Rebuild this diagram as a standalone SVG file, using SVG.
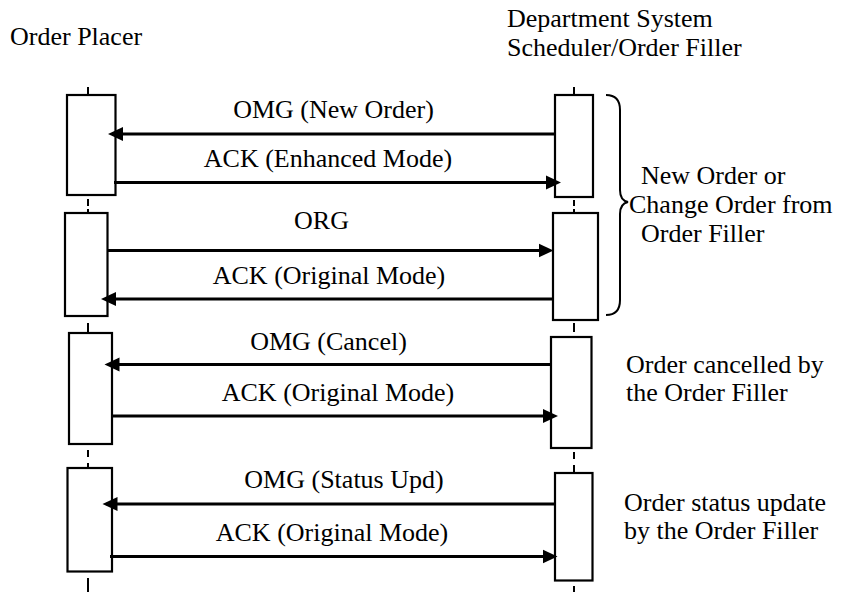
<svg xmlns="http://www.w3.org/2000/svg" width="853" height="592" viewBox="0 0 853 592">
<style>
text{font-family:"Liberation Serif","Times New Roman",Times,"Noto Serif","DejaVu Serif",FreeSerif,serif;font-size:26px;fill:#000}
.lbl{text-anchor:middle}
.life{stroke:#000;stroke-width:2;fill:none}
.box{fill:#fff;stroke:#000;stroke-width:2.2}
.msg{stroke:#000;stroke-width:3;fill:none}
.arr{marker-end:url(#ah)}
.brace{fill:none;stroke:#000;stroke-width:2}
</style>
<defs>
<marker id="ah" markerUnits="userSpaceOnUse" markerWidth="16" markerHeight="16" viewBox="0 0 16 16" refX="11" refY="8" orient="auto">
<path d="M0,1 L15,8 L0,15 Z" fill="#000"/>
</marker>
</defs>
<rect width="853" height="592" fill="#fff"/>

<g id="order-placer">
<text x="10" y="45">Order Placer</text>
<path class="life" d="M88,87V95 M88,199V206 M88,209V213 M88,323V332 M88,450V457 M88,463V468 M88,578V592"/>
</g>
<g id="order-filler">
<text x="507" y="27">Department System</text>
<text x="507" y="56">Scheduler/Order Filler</text>
<path class="life" d="M574,87V95 M574,200V206 M574,209V213 M574,323V332 M574,452V459 M574,465V473 M574,586V592"/>
</g>

<g id="placer-act-1"><rect class="box" x="67" y="95" width="48.5" height="100"/></g>
<g id="placer-act-2"><rect class="box" x="65" y="213" width="42.5" height="103"/></g>
<g id="placer-act-3"><rect class="box" x="69" y="333" width="43" height="111"/></g>
<g id="placer-act-4"><rect class="box" x="67.5" y="468" width="44.5" height="103.5"/></g>

<g id="filler-act-1"><rect class="box" x="555" y="95" width="38" height="102"/></g>
<g id="filler-act-2"><rect class="box" x="553" y="213" width="45" height="107"/></g>
<g id="filler-act-3"><rect class="box" x="551" y="337" width="40.5" height="111"/></g>
<g id="filler-act-4"><rect class="box" x="555" y="473" width="37.5" height="107.5"/></g>

<g id="connectors">
<line class="msg arr" x1="555" y1="134" x2="112" y2="134"/>
<line class="msg arr" x1="114" y1="182.5" x2="557" y2="182.5"/>
<line class="msg arr" x1="108" y1="250.5" x2="549.5" y2="250.5"/>
<line class="msg arr" x1="552" y1="299" x2="105" y2="299"/>
<line class="msg arr" x1="551" y1="364.5" x2="108.5" y2="364.5"/>
<line class="msg arr" x1="112" y1="416" x2="554" y2="416"/>
<line class="msg arr" x1="555" y1="504" x2="106.5" y2="504"/>
<line class="msg arr" x1="110" y1="556.5" x2="553.5" y2="556.5"/>
<text class="lbl" x="333.5" y="118">OMG (New Order)</text>
<text class="lbl" x="328" y="167">ACK (Enhanced Mode)</text>
<text class="lbl" x="321.5" y="229">ORG</text>
<text class="lbl" x="329" y="284">ACK (Original Mode)</text>
<text class="lbl" x="328.5" y="350">OMG (Cancel)</text>
<text class="lbl" x="338" y="401">ACK (Original Mode)</text>
<text class="lbl" x="344" y="488">OMG (Status Upd)</text>
<text class="lbl" x="332" y="541">ACK (Original Mode)</text>
</g>

<g id="note-new-order">
<path class="brace" d="M606,95 C616,95 620,100 620,110 L620,190 C620,198 623,201 628,202 C623,203 620,206 620,214 L620,300 C620,310 616,315 606,315"/>
<text x="641" y="184">New Order or</text>
<text x="629" y="213">Change Order from</text>
<text x="641" y="242">Order Filler</text>
</g>
<g id="note-cancel">
<text x="626" y="373">Order cancelled by</text>
<text x="626" y="401">the Order Filler</text>
</g>
<g id="note-status">
<text x="624" y="511">Order status update</text>
<text x="624" y="539">by the Order Filler</text>
</g>
</svg>
